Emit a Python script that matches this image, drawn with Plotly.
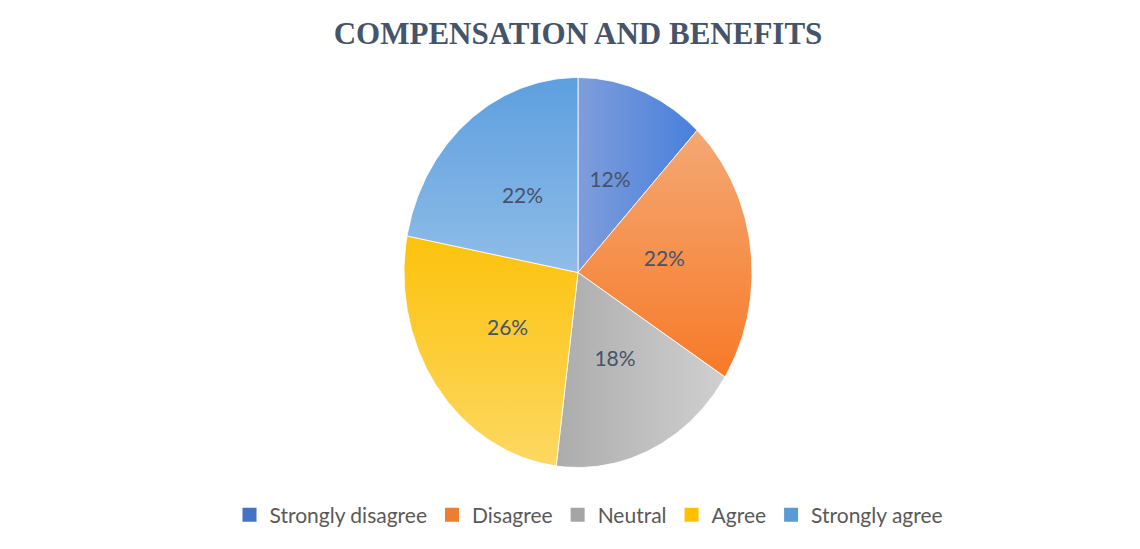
import numpy as np
import plotly.graph_objects as go

# Survey responses for compensation and benefits (percent of respondents)
categories = ["Strongly disagree", "Disagree", "Neutral", "Agree", "Strongly agree"]
values = [12, 22, 18, 26, 22]

# Base colours and gradient pairs for each slice
base_colors = ["#4472C4", "#ED7D31", "#A5A5A5", "#FFC000", "#5B9BD5"]
gradients = [
    ("horizontal", "#7f9ddb", "#4780dc"),   # light left -> dark right
    ("vertical", "#f77a28", "#f4a874"),     # dark bottom -> light top
    ("horizontal", "#acacac", "#d0d0d0"),
    ("vertical", "#fdd862", "#fcc20c"),
    ("vertical", "#90bde8", "#5d9fe0"),
]

fig = go.Figure()

total = sum(values)
start = 0.0
label_x, label_y, label_text = [], [], []
for name, v, (gtype, c0, c1) in zip(categories, values, gradients):
    frac0 = start / total
    frac1 = (start + v) / total
    # angles measured clockwise from 12 o'clock
    t = np.linspace(frac0, frac1, 120) * 2 * np.pi
    xs = np.concatenate([[0.0], np.sin(t), [0.0]])
    ys = np.concatenate([[0.0], np.cos(t), [0.0]])
    fig.add_trace(go.Scatter(
        x=xs, y=ys, mode="lines", fill="toself",
        fillgradient=dict(type=gtype, colorscale=[[0, c0], [1, c1]]),
        line=dict(color="rgba(255,255,255,0.8)", width=1),
        hoverinfo="skip", showlegend=False, name=name,
    ))
    mid = (frac0 + frac1) / 2 * 2 * np.pi
    label_x.append(0.5 * np.sin(mid))
    label_y.append(0.5 * np.cos(mid))
    label_text.append(f"{v}%")
    start += v

# Data labels
fig.add_trace(go.Scatter(
    x=label_x, y=label_y, mode="text", text=label_text,
    textfont=dict(family="Lato", size=21, color="#45536a"),
    hoverinfo="skip", showlegend=False,
))

# Legend entries
for name, col in zip(categories, base_colors):
    fig.add_trace(go.Scatter(
        x=[None], y=[None], mode="markers", name=name,
        marker=dict(symbol="square", size=14, color=col),
    ))

W, H = 1140, 549
pad = 1.02
cx, cy, rx, ry = 578, 272.5, 174, 195
fig.update_layout(
    width=W, height=H,
    margin=dict(l=0, r=0, t=0, b=0),
    paper_bgcolor="white", plot_bgcolor="white",
    title=dict(
        text="<b>COMPENSATION AND BENEFITS</b>",
        x=cx / W, xanchor="center", y=1 - 33 / H, yanchor="middle",
        font=dict(family="Liberation Serif", size=31, color="#44546a"),
    ),
    xaxis=dict(
        domain=[(cx - rx * pad) / W, (cx + rx * pad) / W],
        range=[-pad, pad], visible=False, fixedrange=True,
    ),
    yaxis=dict(
        domain=[1 - (cy + ry * pad) / H, 1 - (cy - ry * pad) / H],
        range=[-pad, pad], visible=False, fixedrange=True,
    ),
    legend=dict(
        orientation="h", x=589 / W, xanchor="center", y=1 - 515 / H, yanchor="middle",
        font=dict(family="Lato", size=21, color="#595959"),
        itemwidth=30, itemclick=False, itemdoubleclick=False,
    ),
    showlegend=True,
)

fig.write_html("out.html")
